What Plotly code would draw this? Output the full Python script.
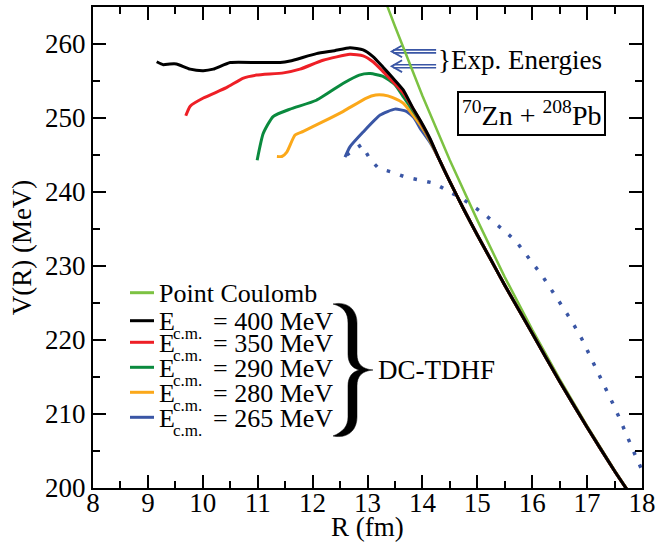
import plotly.graph_objects as go

# ---------------- data ----------------
r_coul = [13.30, 13.50, 14.00, 14.50, 15.00, 15.50, 16.00, 16.50, 17.00, 17.50, 18.00]
v_coul = [266.3, 262.4, 253.0, 244.3, 236.2, 228.5, 221.4, 214.7, 208.4, 202.4, 196.8]

r_tail = [14.30, 14.50, 14.75, 15.00, 15.25, 15.50, 16.00, 16.50, 17.00, 17.50, 18.00]
v_tail = [244.5, 241.4, 237.7, 234.2, 230.8, 227.4, 220.9, 214.4, 208.2, 202.3, 196.8]

r_400 = [9.16, 9.28, 9.40, 9.52, 9.77, 10.01, 10.19, 10.50, 11.00, 11.41, 11.59, 12.07, 12.40,
         12.68, 12.92, 13.10, 13.28, 13.45, 13.65, 13.83, 13.96, 14.14]
v_400 = [257.6, 257.2, 257.3, 257.3, 256.6, 256.4, 256.6, 257.5, 257.5, 257.5, 257.7, 258.7, 259.1,
         259.5, 259.2, 258.3, 256.9, 255.5, 253.8, 251.3, 249.7, 247.2]

r_350 = [9.69, 9.77, 10.01, 10.43, 10.74, 10.98, 11.47, 11.77, 12.19, 12.68, 12.92, 13.10, 13.28,
         13.65, 13.96, 14.14]
v_350 = [250.3, 251.6, 252.7, 254.1, 255.4, 255.8, 256.1, 256.6, 257.8, 258.6, 258.4, 257.6, 256.3,
         253.4, 249.6, 247.1]

r_290 = [10.99, 11.10, 11.28, 11.59, 12.07, 12.56, 12.85, 13.05, 13.29, 13.50, 13.65, 13.96, 14.14]
v_290 = [244.3, 247.9, 250.2, 251.2, 252.4, 254.7, 255.8, 256.0, 255.6, 254.5, 252.9, 249.5, 247.0]

r_280 = [11.35, 11.44, 11.53, 11.68, 11.83, 12.19, 12.56, 12.98, 13.15, 13.29, 13.45, 13.65, 13.96, 14.14]
v_280 = [244.8, 244.8, 245.4, 247.7, 248.2, 249.5, 250.9, 252.7, 253.1, 253.1, 252.8, 252.0, 249.1, 246.9]

r_265 = [12.59, 12.68, 12.92, 13.23, 13.50, 13.71, 13.85, 13.96, 14.14]
v_265 = [244.7, 246.1, 248.1, 250.4, 251.2, 250.9, 250.0, 248.6, 246.7]

r_dot = [12.62, 12.89, 13.05, 13.20, 13.44, 13.70, 13.96, 14.21, 14.45, 14.70, 14.90, 15.11, 15.32,
         15.52, 15.72, 15.89, 16.04, 16.19, 16.34, 16.49, 16.63, 16.77, 16.90, 17.01, 17.13, 17.24,
         17.36, 17.47, 17.58, 17.68, 17.78, 17.89, 18.00]
v_dot = [245.0, 246.4, 244.4, 243.2, 242.7, 242.0, 241.6, 241.2, 240.2, 239.2, 238.2, 237.1, 235.8,
         234.6, 233.2, 231.6, 230.1, 228.6, 226.9, 225.3, 223.6, 221.9, 220.2, 218.5, 216.7, 215.0,
         213.2, 211.4, 209.6, 207.8, 206.0, 204.2, 202.4]

exp_energies = [259.0, 257.0]
arrow_r = [13.44, 14.25]

energies = ["400", "350", "290", "280", "265"]
colors = ["#7cc242", "#000000", "#ee1f26", "#0a8a3e", "#fba81a", "#3a56a5"]

FONT = "Liberation Serif, Times New Roman, serif"

# plot-area geometry (pixels) for paper conversion of decorations
L, R_, T, B = 93, 642, 7, 488
W, H = 658, 549
def px(x):
    return (x - L) / (R_ - L)
def py(y):
    return (B - y) / (B - T)

fig = go.Figure()

fig.add_trace(go.Scatter(x=r_coul, y=v_coul, mode="lines", line=dict(color=colors[0], width=2.5),
                         showlegend=False))
fig.add_trace(go.Scatter(x=r_dot, y=v_dot, mode="lines",
                         line=dict(color="#3a56a5", width=3.5, dash="3.5px,10.5px"), showlegend=False))
series = [(r_265, v_265, colors[5]), (r_280, v_280, colors[4]), (r_290, v_290, colors[3]),
          (r_350, v_350, colors[2]), (r_400, v_400, colors[1])]
for rr, vv, c in series:
    fig.add_trace(go.Scatter(x=rr + r_tail, y=vv + v_tail, mode="lines",
                             line=dict(color=c, width=3, shape="spline", smoothing=0.5), showlegend=False))

shapes = []
annotations = []

def txt(x, y, s, size, anchor="left", **kw):
    d = dict(xref="paper", yref="paper", x=px(x), y=py(y), xanchor=anchor, yanchor="middle",
             text=s, showarrow=False, font=dict(family=FONT, size=size, color="black"))
    d.update(kw)
    annotations.append(d)

# legend (manual)
rows = [292.7, 320.7, 342.3, 367.3, 392.3, 417.3]
for yy, c in zip(rows, colors):
    shapes.append(dict(type="line", xref="paper", yref="paper", x0=px(130), x1=px(154), y0=py(yy), y1=py(yy),
                       line=dict(color=c, width=3)))
txt(157, rows[0] + 1, "Point Coulomb", 26)
for yy, e in zip(rows[1:], energies):
    txt(157, yy + 1, "E", 26)
    txt(171, yy + 13, "c.m.", 17)
    txt(211, yy + 1, "= " + e + " MeV", 26)

# big brace
pts = [("M", [(333, 304)]),
       ("C", [(348, 301), (357, 310), (357, 323)]),
       ("L", [(357, 354)]),
       ("C", [(357, 364), (362, 369), (373, 370)]),
       ("C", [(362, 371), (357, 376), (357, 386)]),
       ("L", [(357, 417)]),
       ("C", [(357, 430), (348, 439), (333, 436)]),
       ("C", [(343, 432), (348, 426), (348, 417)]),
       ("L", [(348, 386)]),
       ("C", [(348, 377), (352, 372), (359, 370)]),
       ("C", [(352, 368), (348, 363), (348, 354)]),
       ("L", [(348, 323)]),
       ("C", [(348, 313), (344, 307), (333, 304)])]
path = ""
for cmd, ps in pts:
    path += cmd + " " + " ".join(f"{px(a):.5f},{py(b):.5f}" for a, b in ps) + " "
path += "Z"
shapes.append(dict(type="path", xref="paper", yref="paper", path=path, fillcolor="black",
                   line=dict(color="black", width=0.5)))
txt(376, 370, "DC-TDHF", 27)

# experimental energy arrows
for e in exp_energies:
    for off in (-0.2, 0.2):
        shapes.append(dict(type="line", xref="x", yref="y", x0=arrow_r[0] + 0.03, x1=arrow_r[1], y0=e + off, y1=e + off,
                           line=dict(color="#3a56a5", width=1.6), layer="below"))
    shapes.append(dict(type="path", xref="x", yref="y",
                       path=f"M {arrow_r[0]+0.19},{e+0.8} L {arrow_r[0]},{e} L {arrow_r[0]+0.19},{e-0.8}",
                       line=dict(color="#3a56a5", width=1.8), layer="below"))
txt(436, 60, "}Exp. Energies", 27)

# reaction box
txt(531, 113, "<sup>70</sup>Zn + <sup>208</sup>Pb", 28, anchor="center",
    bordercolor="black", borderwidth=2, borderpad=3, bgcolor="white")

# x-axis title
txt((L + R_) / 2, 527, "R (fm)", 27, anchor="center")

axis_common = dict(showline=True, linecolor="black", linewidth=2, mirror="ticks", ticks="inside",
                   ticklen=13, tickwidth=2, tickcolor="black", showgrid=False, zeroline=False,
                   automargin=False, tickfont=dict(family=FONT, size=27, color="black"))

fig.update_layout(
    width=W, height=H, margin=dict(l=L, r=W - R_, t=T, b=H - B),
    paper_bgcolor="white", plot_bgcolor="white", showlegend=False,
    xaxis=dict(range=[8, 18], dtick=1, tick0=8, ticklabelstandoff=-10,
               minor=dict(dtick=0.5, ticks="inside", ticklen=7, tickwidth=2, tickcolor="black"),
               **axis_common),
    yaxis=dict(range=[200, 265], dtick=10, tick0=200,
               minor=dict(dtick=5, ticks="inside", ticklen=7, tickwidth=2, tickcolor="black"),
               title=dict(text="V(R) (MeV)", font=dict(family=FONT, size=27, color="black"), standoff=6),
               **axis_common),
    shapes=shapes, annotations=annotations,
)

fig.write_html("out.html", config={"displayModeBar": False},
               post_script="document.body.style.margin='0px';")
